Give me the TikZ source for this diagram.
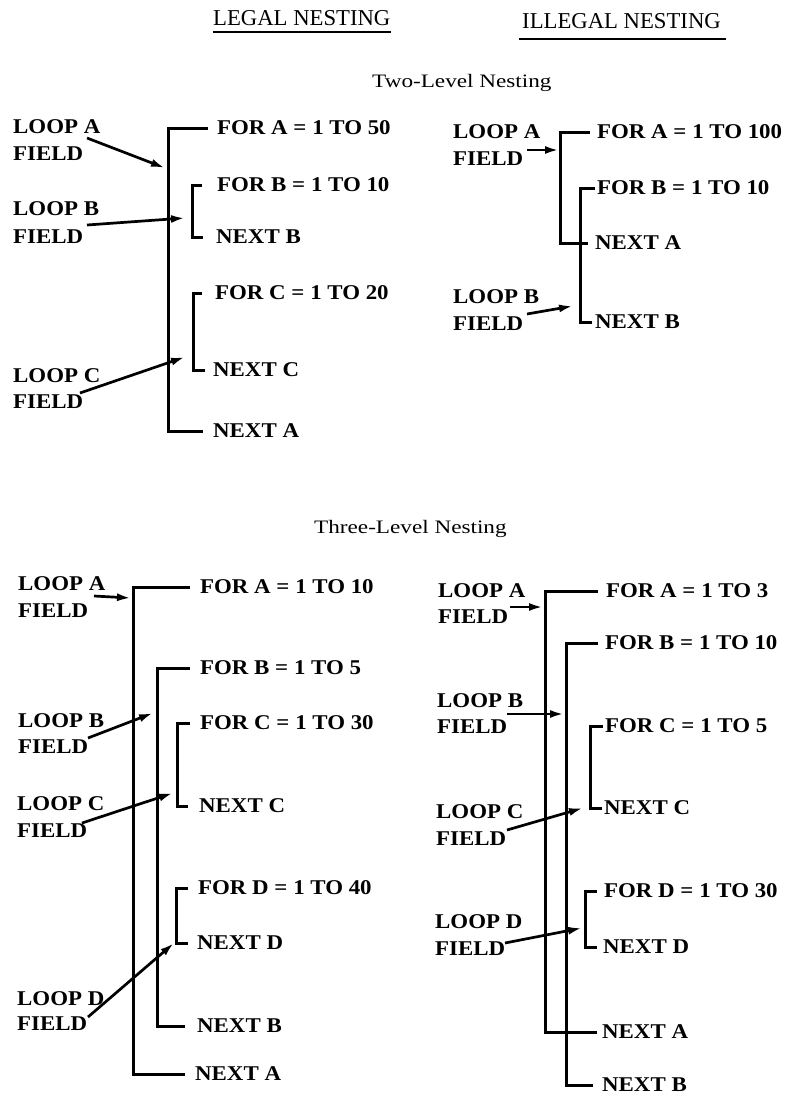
\documentclass[tikz,border=0pt]{standalone}
\usepackage{fontspec}
\setmainfont{Liberation Serif}
\newfontfamily\lblfont[FakeStretch=1.09]{Liberation Serif}
\newfontfamily\subfont[FakeStretch=1.22]{Liberation Serif}
\usetikzlibrary{arrows.meta,calc}
\tikzset{
  lbl/.style={anchor=base west, inner sep=0pt, font=\lblfont\fontsize{21}{25}\selectfont\bfseries},
  cmd/.style={anchor=west, inner sep=0pt, font=\lblfont\fontsize{21}{25}\selectfont\bfseries},
  headtxt/.style={anchor=base west, inner sep=0pt, font=\fontsize{22.7}{27}\selectfont},
  subtxt/.style={anchor=base west, inner sep=0pt, font=\subfont\fontsize{19}{23}\selectfont},
  brkline/.style={line width=3pt, line join=miter},
  arr/.style={line width=2.7pt, -{Latex[length=14pt,width=8pt]}},
  uline/.style={line width=2.8pt}
}
% #1 FOR node, #2 NEXT node, #3 x coordinate, #4 top gap, #5 bottom gap
\newcommand\brkt[5]{\draw[brkline] ([xshift=-#4]#1.west) -| (#2.west -| #3) -- ([xshift=-#5]#2.west);}
\begin{document}
\begin{tikzpicture}[x=1pt,y=-1pt]
\useasboundingbox (0,0) rectangle (799,1096);
% ---------- headings
\node[headtxt] (hlegal) at (213,25) {LEGAL NESTING};
\node[headtxt] (hillegal) at (522,28) {ILLEGAL NESTING};
\draw[uline] ([yshift=-7pt]hlegal.base west) -- ([yshift=-7pt]hlegal.base east);
\draw[uline] ([shift={(-3pt,-11pt)}]hillegal.base west) -- ([shift={(5pt,-11pt)}]hillegal.base east);
\node[subtxt] (two) at (372,87) {Two-Level Nesting};
\node[subtxt] (three) at (314,533) {Three-Level Nesting};

% ================= TOP LEFT (legal, two-level)
\node[lbl] (TLa1) at (13,133) {LOOP A};
\node[lbl] (TLa2) at (13,160) {FIELD};
\node[lbl] (TLb1) at (13,215) {LOOP B};
\node[lbl] (TLb2) at (13,243) {FIELD};
\node[lbl] (TLc1) at (13,382) {LOOP C};
\node[lbl] (TLc2) at (13,408) {FIELD};
\node[cmd] (TLforA) at (217,128) {FOR A = 1 TO 50};
\node[cmd] (TLforB) at (217,185) {FOR B = 1 TO 10};
\node[cmd] (TLnextB) at (216,237) {NEXT B};
\node[cmd] (TLforC) at (215,293) {FOR C = 1 TO 20};
\node[cmd] (TLnextC) at (213,370) {NEXT C};
\node[cmd] (TLnextA) at (213,431) {NEXT A};
\coordinate (TLxA) at (168,0);
\coordinate (TLxB) at (192,0);
\coordinate (TLxC) at (193,0);
\brkt{TLforA}{TLnextA}{TLxA}{9pt}{10pt}
\brkt{TLforB}{TLnextB}{TLxB}{15pt}{13pt}
\brkt{TLforC}{TLnextC}{TLxC}{13pt}{8pt}
\coordinate (TLsA) at (87,138); \coordinate (TLeA) at (165,168);
\coordinate (TLsB) at (87,225); \coordinate (TLeB) at (185,218);
\coordinate (TLsC) at (80,393); \coordinate (TLeC) at (185,357);
\draw[arr] (TLsA) -- (TLeA);
\draw[arr] (TLsB) -- (TLeB);
\draw[arr] (TLsC) -- (TLeC);

% ================= TOP RIGHT (illegal, two-level)
\node[lbl] (TRa1) at (453,138) {LOOP A};
\node[lbl] (TRa2) at (453,165) {FIELD};
\node[lbl] (TRb1) at (453,303) {LOOP B};
\node[lbl] (TRb2) at (453,330) {FIELD};
\node[cmd] (TRforA) at (597,132) {FOR A = 1 TO 100};
\node[cmd] (TRforB) at (597,188) {FOR B = 1 TO 10};
\node[cmd] (TRnextA) at (595,243) {NEXT A};
\node[cmd] (TRnextB) at (595,322) {NEXT B};
\coordinate (TRxA) at (560,0);
\coordinate (TRxB) at (580,0);
\brkt{TRforA}{TRnextA}{TRxA}{7pt}{7pt}
\brkt{TRforB}{TRnextB}{TRxB}{2pt}{3pt}
\coordinate (TRsA) at (527,150); \coordinate (TReA) at (559,150);
\coordinate (TRsB) at (527,314); \coordinate (TReB) at (573,306);
\draw[arr] (TRsA) -- (TReA);
\draw[arr] (TRsB) -- (TReB);

% ================= BOTTOM LEFT (legal, three-level)
\node[lbl] (BLa1) at (18,590) {LOOP A};
\node[lbl] (BLa2) at (18,617) {FIELD};
\node[lbl] (BLb1) at (18,727) {LOOP B};
\node[lbl] (BLb2) at (18,753) {FIELD};
\node[lbl] (BLc1) at (17,810) {LOOP C};
\node[lbl] (BLc2) at (17,837) {FIELD};
\node[lbl] (BLd1) at (17,1005) {LOOP D};
\node[lbl] (BLd2) at (17,1030) {FIELD};
\node[cmd] (BLforA) at (200,587) {FOR A = 1 TO 10};
\node[cmd] (BLforB) at (200,668) {FOR B = 1 TO 5};
\node[cmd] (BLforC) at (200,723) {FOR C = 1 TO 30};
\node[cmd] (BLnextC) at (199,806) {NEXT C};
\node[cmd] (BLforD) at (198,888) {FOR D = 1 TO 40};
\node[cmd] (BLnextD) at (197,943) {NEXT D};
\node[cmd] (BLnextB) at (197,1026) {NEXT B};
\node[cmd] (BLnextA) at (195,1074) {NEXT A};
\coordinate (BLxA) at (133,0);
\coordinate (BLxB) at (157,0);
\coordinate (BLxC) at (177,0);
\coordinate (BLxD) at (176,0);
\brkt{BLforA}{BLnextA}{BLxA}{10pt}{10pt}
\brkt{BLforB}{BLnextB}{BLxB}{10pt}{12pt}
\brkt{BLforC}{BLnextC}{BLxC}{10pt}{11pt}
\brkt{BLforD}{BLnextD}{BLxD}{10pt}{9pt}
\coordinate (BLsA) at (94,596);  \coordinate (BLeA) at (131,598);
\coordinate (BLsB) at (88,738);  \coordinate (BLeB) at (153,713);
\coordinate (BLsC) at (82,823);  \coordinate (BLeC) at (173,793);
\coordinate (BLsD) at (88,1017); \coordinate (BLeD) at (174,943);
\draw[arr] (BLsA) -- (BLeA);
\draw[arr] (BLsB) -- (BLeB);
\draw[arr] (BLsC) -- (BLeC);
\draw[arr] (BLsD) -- (BLeD);

% ================= BOTTOM RIGHT (illegal, three-level)
\node[lbl] (BRa1) at (438,597) {LOOP A};
\node[lbl] (BRa2) at (438,623) {FIELD};
\node[lbl] (BRb1) at (437,707) {LOOP B};
\node[lbl] (BRb2) at (437,733) {FIELD};
\node[lbl] (BRc1) at (436,818) {LOOP C};
\node[lbl] (BRc2) at (436,845) {FIELD};
\node[lbl] (BRd1) at (435,928) {LOOP D};
\node[lbl] (BRd2) at (435,955) {FIELD};
\node[cmd] (BRforA) at (606,591) {FOR A = 1 TO 3};
\node[cmd] (BRforB) at (605,643) {FOR B = 1 TO 10};
\node[cmd] (BRforC) at (605,726) {FOR C = 1 TO 5};
\node[cmd] (BRnextC) at (604,808) {NEXT C};
\node[cmd] (BRforD) at (604,891) {FOR D = 1 TO 30};
\node[cmd] (BRnextD) at (603,947) {NEXT D};
\node[cmd] (BRnextA) at (602,1032) {NEXT A};
\node[cmd] (BRnextB) at (602,1085) {NEXT B};
\coordinate (BRxA) at (545,0);
\coordinate (BRxB) at (566,0);
\coordinate (BRxC) at (590,0);
\coordinate (BRxD) at (585,0);
\brkt{BRforA}{BRnextA}{BRxA}{8pt}{5pt}
\brkt{BRforB}{BRnextB}{BRxB}{7pt}{9pt}
\brkt{BRforC}{BRnextC}{BRxC}{2pt}{2pt}
\brkt{BRforD}{BRnextD}{BRxD}{7pt}{6pt}
\coordinate (BRsA) at (510,607); \coordinate (BReA) at (543,607);
\coordinate (BRsB) at (507,714); \coordinate (BReB) at (564,714);
\coordinate (BRsC) at (507,830); \coordinate (BReC) at (583,808);
\coordinate (BRsD) at (505,943); \coordinate (BReD) at (582,928);
\draw[arr] (BRsA) -- (BReA);
\draw[arr] (BRsB) -- (BReB);
\draw[arr] (BRsC) -- (BReC);
\draw[arr] (BRsD) -- (BReD);
\end{tikzpicture}
\end{document}
